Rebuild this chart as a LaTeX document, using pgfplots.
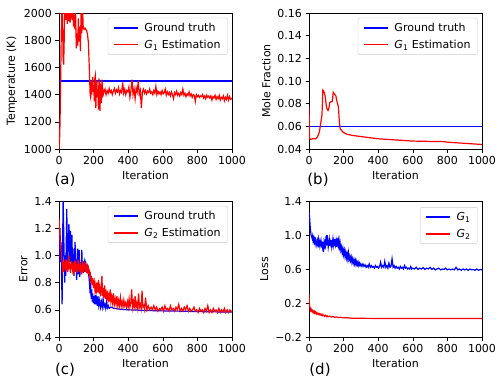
\documentclass[border=0pt]{standalone}
\usepackage{fontspec}
\setmainfont{DejaVu Sans}
\usepackage{pgfplots}
\pgfplotsset{compat=1.18}

\definecolor{gtblue}{rgb}{0,0,1}
\definecolor{estred}{rgb}{1,0,0}
\newcommand{\fs}{\fontsize{11}{13}\selectfont}
\newcommand{\Gi}[1]{\textit{G}\textsubscript{#1}}

\pgfplotsset{
  legend image code/.code={\draw[#1, line width=1.5pt] (0pt,0pt) -- (24pt,0pt);},
  panel/.style={
    width=173pt, height=136pt, scale only axis,
    xmin=0, xmax=1000, xtick={0,200,...,1000},
    tick align=outside, tick pos=left, major tick length=3.5pt,
    tick style={black, line width=0.6pt},
    axis line style={line width=0.6pt},
    xlabel={Iteration},
    tick label style={font=\fs},
    label style={font=\fs},
    /pgf/number format/assume math mode=true,
    /pgf/number format/set thousands separator={},
    scaled ticks=false,
    clip mode=individual,
    legend style={at={(0.975,0.965)}, anchor=north east, draw=black!20,
      rounded corners=2pt, font=\fs, row sep=3pt, inner xsep=5pt, inner ysep=3pt,
      /tikz/every odd column/.append style={column sep=4pt}},
    legend cell align=left,
  },
  gt/.style={draw=gtblue, line width=1.2pt},
  est/.style={draw=estred, line width=1.2pt},
}

\begin{document}
\begin{tikzpicture}
\path[use as bounding box] (0,0) rectangle (498pt,384pt);

% (a) temperature
\begin{axis}[panel, at={(59pt,235pt)}, anchor=south west,
  ymin=1000, ymax=2000, ytick={1000,1200,...,2000},
  ylabel={Temperature (K)}]
\addplot[gt] coordinates {(0,1500) (1000,1500)};
\addlegendentry{Ground truth}
\addplot[est] coordinates {
(0,1000) (3,1050) (6,1200) (9,1450) (12,1750) (15,2000) (18,2050) (21,1900) (24,1650) (27,1620)
(30,1800) (33,2050) (36,2100) (40,1950) (44,2050) (48,1920) (52,2000) (56,1940) (60,2050) (64,1930)
(68,1980) (72,2100) (76,1950) (80,2050) (84,1900) (88,1990) (92,1880) (96,2000) (100,1740) (104,1850)
(108,1760) (112,1960) (116,1790) (120,1900) (124,1720) (128,2050) (132,1850) (136,2050) (140,1890) (145,1880)
(150,1890) (155,1880) (160,1870) (165,1840) (170,1780) (175,1600) (180,1400) (183,1380) (186,1500) (189,1400)
(192,1450) (195,1530) (198,1420) (201,1470) (204,1350) (207,1520) (210,1540) (213,1300) (216,1460) (219,1500)
(222,1380) (225,1440) (228,1290) (231,1520) (234,1400) (237,1280) (240,1470) (243,1460) (246,1340) (249,1510)
(252,1380) (255,1430) (258,1410)
(260,1420) (266,1440) (272,1400) (278,1430) (284,1410) (290,1445) (296,1415) (302,1430) (308,1400) (314,1425)
(320,1445) (326,1410) (332,1435) (338,1420) (344,1450) (350,1405) (356,1430) (362,1415) (368,1490) (374,1410)
(380,1440) (386,1400) (392,1430) (398,1420) (404,1455) (410,1380) (416,1430) (422,1510) (428,1400) (434,1440)
(440,1370) (446,1450) (452,1420) (458,1500) (464,1400) (470,1430) (476,1300) (482,1420) (488,1440) (494,1410)
(500,1430) (506,1405) (512,1425) (518,1415) (524,1440) (530,1410) (536,1420) (542,1400) (548,1430) (554,1410)
(560,1460) (566,1400) (572,1425) (578,1405) (584,1420) (590,1400) (596,1430) (602,1405) (608,1415) (614,1440)
(620,1395) (626,1420) (632,1400) (638,1415) (644,1390) (650,1420) (656,1400) (662,1370) (668,1415) (674,1400)
(680,1425) (686,1395) (692,1410) (698,1390) (704,1415) (710,1400) (716,1440) (722,1395) (728,1410) (734,1385)
(740,1405) (746,1395) (752,1420) (758,1390) (764,1405) (770,1380) (776,1400) (782,1395) (788,1350) (794,1400)
(800,1385) (806,1395) (812,1380) (818,1390) (824,1385) (830,1400) (836,1375) (842,1390) (848,1370) (854,1395)
(860,1380) (866,1390) (872,1375) (878,1390) (884,1360) (890,1385) (896,1375) (902,1395) (908,1365) (914,1385)
(920,1370) (926,1395) (932,1360) (938,1380) (944,1370) (950,1390) (956,1355) (962,1380) (968,1365) (974,1395)
(980,1360) (986,1385) (992,1365) (1000,1375)};
\addlegendentry{\Gi{1} Estimation}
\end{axis}

% (b) mole fraction
\begin{axis}[panel, at={(309pt,235pt)}, anchor=south west,
  ymin=0.04, ymax=0.16, ytick={0.04,0.06,...,0.161},
  yticklabel style={/pgf/number format/fixed, /pgf/number format/precision=2, /pgf/number format/fixed zerofill},
  ylabel={Mole Fraction}]
\addplot[gt] coordinates {(0,0.06) (1000,0.06)};
\addlegendentry{Ground truth}
\addplot[est] coordinates {
(0,0.077) (3,0.049) (10,0.0485) (20,0.049) (30,0.049) (40,0.049) (50,0.051) (60,0.055) (70,0.065) (75,0.07)
(80,0.092) (85,0.091) (90,0.089) (95,0.085) (100,0.078) (105,0.075) (110,0.074) (115,0.076) (120,0.081) (130,0.082)
(135,0.082) (140,0.09) (145,0.089) (150,0.088) (155,0.087) (160,0.083) (165,0.08) (170,0.077) (175,0.065) (180,0.058)
(190,0.056) (200,0.0545) (220,0.053) (250,0.052) (300,0.051) (350,0.050) (400,0.049) (500,0.048) (600,0.047) (700,0.0467)
(780,0.0465) (800,0.046) (900,0.045) (1000,0.044)};
\addlegendentry{\Gi{1} Estimation}
\end{axis}

% (c) error
\begin{axis}[panel, at={(59pt,47pt)}, anchor=south west,
  ymin=0.4, ymax=1.4, ytick={0.4,0.6,...,1.41},
  yticklabel style={/pgf/number format/fixed, /pgf/number format/precision=1, /pgf/number format/fixed zerofill},
  ylabel={Error}]
\addplot[gt] coordinates {
(0,0.95) (3,1.05) (6,1.2) (9,0.95) (12,1.1) (15,0.85) (18,0.64) (21,1.1) (24,1.42) (27,1.2)
(30,0.95) (33,0.8) (36,1.0) (39,0.85) (42,1.1) (45,1.34) (48,1.05) (51,0.9) (54,1.1) (57,1.23)
(60,1.15) (63,0.95) (66,1.18) (69,1.05) (72,0.92) (75,1.15) (78,0.88) (81,1.05) (84,0.9) (87,0.85)
(90,1.0) (93,1.1) (96,0.88) (99,0.95) (102,0.82) (105,1.0) (108,1.05) (111,0.86) (114,0.92) (117,1.04)
(120,0.84) (123,0.9) (126,0.95) (129,0.88) (132,1.04) (135,0.9) (138,0.96) (141,0.87) (144,0.93) (147,0.95)
(150,0.88) (155,0.94) (160,0.9) (165,0.92) (170,0.88) (175,0.82) (180,0.72) (183,0.8) (186,0.68) (189,0.75)
(192,0.66) (195,0.72) (198,0.65) (201,0.7) (205,0.64) (209,0.71) (213,0.64) (217,0.68) (221,0.63) (225,0.7)
(230,0.63) (235,0.67) (240,0.62) (245,0.66) (250,0.62) (255,0.68) (260,0.62) (265,0.64) (270,0.61) (275,0.66)
(280,0.615) (285,0.63) (290,0.61) (300,0.62) (320,0.61) (350,0.605) (400,0.6) (450,0.598) (500,0.595) (600,0.592)
(700,0.59) (800,0.587) (900,0.585) (1000,0.583)};
\addlegendentry{Ground truth}
\addplot[est] coordinates {
(0,1.27) (3,1.2) (6,1.12) (9,1.08) (12,1.03) (15,0.98) (18,0.95) (21,0.9) (24,0.93) (27,0.88)
(30,0.95) (33,0.9) (36,0.97) (39,0.89) (42,0.94) (45,0.91) (48,0.96) (51,0.88) (54,0.93) (57,1.0)
(60,0.9) (63,0.94) (66,0.87) (69,0.92) (72,0.96) (75,0.9) (78,0.94) (81,0.86) (84,0.95) (87,0.9)
(90,0.93) (93,0.88) (96,0.96) (99,0.9) (102,0.94) (105,0.87) (108,0.92) (111,0.97) (114,0.89) (117,0.93)
(120,0.88) (123,0.95) (126,0.9) (129,0.93) (132,0.86) (135,0.92) (138,0.96) (141,0.88) (144,0.94) (147,0.9)
(150,0.95) (153,0.88) (156,0.92) (159,0.87) (162,0.94) (165,0.9) (168,0.93) (171,0.86) (174,0.9) (177,0.84)
(180,0.88) (184,0.8) (188,0.85) (192,0.78) (196,0.83) (200,0.76) (204,0.8) (208,0.74) (212,0.78) (216,0.72)
(220,0.8) (224,0.73) (228,0.82) (232,0.72) (236,0.76) (240,0.7) (244,0.75) (248,0.85) (252,0.7) (256,0.76)
(260,0.69) (264,0.78) (268,0.68) (272,0.72) (276,0.67) (280,0.74) (284,0.67) (288,0.7) (292,0.66) (296,0.75)
(300,0.66) (305,0.7) (310,0.65) (315,0.72) (320,0.64) (325,0.68) (330,0.64) (335,0.7) (340,0.63) (345,0.67)
(350,0.63) (355,0.69) (360,0.63) (365,0.66) (370,0.62) (375,0.67) (380,0.63) (385,0.65) (390,0.62) (395,0.66)
(400,0.62) (405,0.68) (410,0.62) (415,0.65) (420,0.75) (425,0.62) (430,0.66) (435,0.61) (440,0.7) (445,0.62)
(450,0.65) (455,0.61) (460,0.72) (465,0.62) (470,0.64) (475,0.61) (480,0.74) (485,0.62) (490,0.63) (495,0.6)
(500,0.69) (508,0.6) (516,0.63) (524,0.6) (532,0.62) (540,0.6) (548,0.63) (556,0.6) (564,0.62) (572,0.59)
(580,0.61) (588,0.6) (596,0.62) (604,0.59) (612,0.63) (620,0.6) (628,0.61) (636,0.59) (644,0.63) (652,0.6)
(660,0.61) (668,0.59) (676,0.62) (684,0.6) (692,0.64) (700,0.59) (708,0.61) (716,0.59) (724,0.62) (732,0.6)
(740,0.63) (748,0.59) (756,0.61) (764,0.59) (772,0.6) (780,0.62) (788,0.59) (796,0.6) (804,0.58) (812,0.61)
(820,0.59) (828,0.6) (836,0.58) (844,0.61) (852,0.59) (860,0.63) (868,0.58) (876,0.6) (884,0.58) (892,0.61)
(900,0.59) (908,0.6) (916,0.58) (924,0.61) (932,0.58) (940,0.6) (948,0.585) (956,0.61) (964,0.58) (972,0.6)
(980,0.58) (988,0.6) (1000,0.585)};
\addlegendentry{\Gi{2} Estimation}
\end{axis}

% (d) loss
\begin{axis}[panel, at={(309pt,47pt)}, anchor=south west,
  ymin=-0.2, ymax=1.4, ytick={-0.2,0.2,0.6,1.0,1.4},
  yticklabels={−0.2,0.2,0.6,1.0,1.4},
  ylabel={Loss},
  legend style={at={(0.975,0.955)}}]
\addplot[gt] coordinates {
(0,1.27) (3,1.22) (6,1.12) (9,1.05) (12,1.0) (15,0.98) (18,0.96) (21,0.99) (24,0.93) (27,0.96)
(30,0.92) (33,0.95) (36,0.9) (39,0.94) (42,0.91) (45,0.88) (48,0.93) (51,0.9) (54,0.95) (57,0.89)
(60,0.92) (63,0.87) (66,0.91) (69,0.94) (72,0.88) (75,0.9) (78,0.86) (81,0.92) (84,0.8) (87,0.91)
(90,0.88) (93,0.93) (96,0.87) (99,0.9) (102,1.0) (105,0.88) (108,0.93) (111,0.86) (114,0.91) (117,0.95)
(120,0.87) (123,0.92) (126,0.89) (129,0.94) (132,0.86) (135,0.9) (138,0.95) (141,0.88) (144,0.92) (147,0.87)
(150,0.95) (153,0.89) (156,0.93) (159,0.86) (162,0.96) (165,0.9) (168,0.94) (171,0.88) (174,0.93) (177,0.86)
(180,0.9) (184,0.82) (188,0.86) (192,0.79) (196,0.84) (200,0.77) (204,0.82) (208,0.75) (212,0.8) (216,0.73)
(220,0.78) (224,0.72) (228,0.79) (232,0.71) (236,0.75) (240,0.7) (244,0.74) (248,0.68) (252,0.72) (256,0.67)
(260,0.71) (264,0.66) (268,0.7) (272,0.65) (276,0.69) (280,0.65) (284,0.68) (288,0.64) (292,0.67) (296,0.64)
(300,0.66) (306,0.63) (312,0.66) (318,0.63) (324,0.65) (330,0.62) (336,0.64) (342,0.62) (348,0.66) (354,0.62)
(360,0.64) (366,0.62) (372,0.63) (378,0.61) (384,0.64) (390,0.62) (396,0.63) (402,0.61) (408,0.63) (414,0.68)
(420,0.62) (426,0.64) (432,0.62) (438,0.69) (444,0.62) (450,0.64) (456,0.61) (462,0.67) (468,0.62) (474,0.63)
(480,0.72) (486,0.62) (492,0.64) (498,0.61) (504,0.63) (510,0.61) (516,0.62) (522,0.6) (528,0.63) (534,0.61)
(540,0.62) (546,0.6) (552,0.64) (558,0.61) (564,0.62) (570,0.6) (576,0.61) (582,0.6) (588,0.63) (594,0.6)
(600,0.61) (610,0.6) (620,0.62) (630,0.595) (640,0.61) (650,0.6) (660,0.615) (670,0.595) (680,0.61) (690,0.6)
(700,0.62) (710,0.595) (720,0.61) (730,0.59) (740,0.6) (750,0.61) (760,0.59) (770,0.6) (780,0.595) (790,0.61)
(800,0.59) (810,0.6) (820,0.59) (830,0.6) (840,0.59) (850,0.62) (860,0.59) (870,0.6) (880,0.585) (890,0.6)
(900,0.59) (910,0.6) (920,0.585) (930,0.6) (940,0.59) (950,0.595) (960,0.585) (970,0.6) (980,0.585) (990,0.595)
(1000,0.59)};
\addlegendentry{\Gi{1}}
\addplot[est] coordinates {
(0,0.3) (2,0.2) (4,0.16) (6,0.14) (8,0.12) (10,0.13) (12,0.11) (15,0.12) (18,0.1) (21,0.11)
(24,0.09) (27,0.1) (30,0.085) (33,0.1) (36,0.08) (39,0.09) (42,0.075) (45,0.085) (48,0.07) (52,0.08)
(56,0.065) (60,0.075) (64,0.06) (68,0.07) (72,0.055) (76,0.065) (80,0.05) (85,0.06) (90,0.045) (95,0.055)
(100,0.04) (105,0.05) (110,0.038) (120,0.045) (130,0.035) (140,0.04) (150,0.032) (160,0.036) (170,0.028) (180,0.032)
(200,0.025) (220,0.027) (250,0.02) (300,0.02) (400,0.018) (600,0.018) (800,0.018) (1000,0.018)};
\addlegendentry{\Gi{2}}
\end{axis}

\node[font=\fontsize{15}{18}\selectfont] at (65pt,204pt) {(a)};
\node[font=\fontsize{15}{18}\selectfont] at (318pt,204pt) {(b)};
\node[font=\fontsize{15}{18}\selectfont] at (65pt,14pt) {(c)};
\node[font=\fontsize{15}{18}\selectfont] at (320pt,14pt) {(d)};
\end{tikzpicture}
\end{document}
